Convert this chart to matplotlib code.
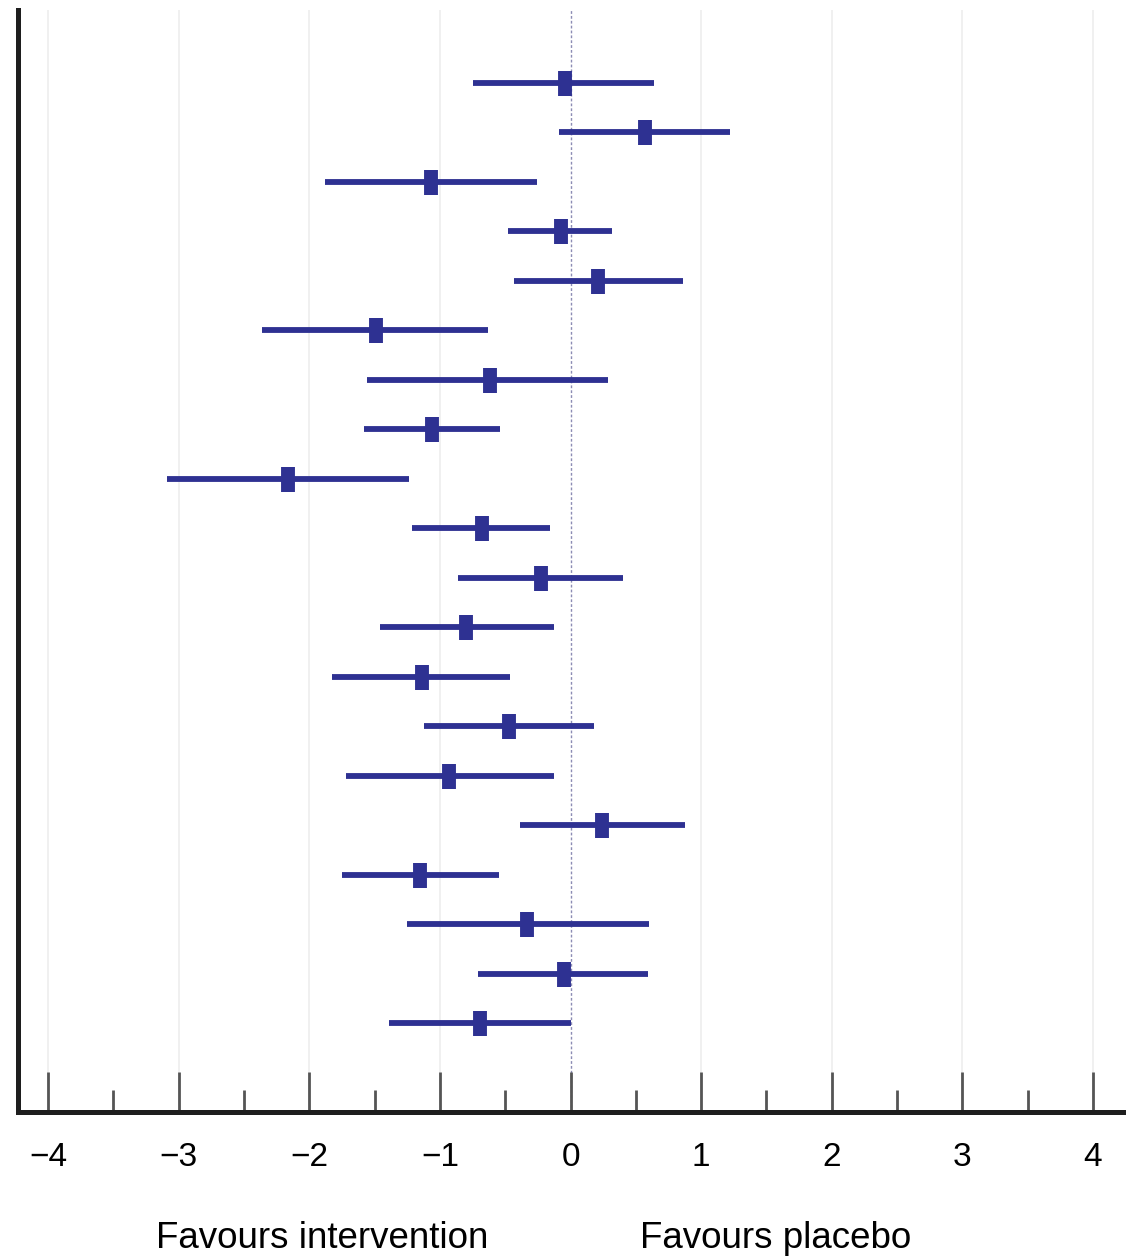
import matplotlib.pyplot as plt
from matplotlib.ticker import MultipleLocator

# effect estimates with confidence limits, one row per study (top to bottom)
estimate = [-0.04, 0.57, -1.07, -0.07, 0.21, -1.49, -0.62, -1.06, -2.16, -0.68,
            -0.23, -0.80, -1.14, -0.47, -0.93, 0.24, -1.15, -0.33, -0.05, -0.69]
lower = [-0.75, -0.09, -1.88, -0.48, -0.43, -2.36, -1.56, -1.58, -3.09, -1.21,
         -0.86, -1.46, -1.83, -1.12, -1.72, -0.39, -1.75, -1.25, -0.71, -1.39]
upper = [0.64, 1.22, -0.26, 0.32, 0.86, -0.63, 0.29, -0.54, -1.24, -0.16,
         0.40, -0.13, -0.46, 0.18, -0.13, 0.88, -0.55, 0.60, 0.59, 0.00]

tick_values = [-4, -3, -2, -1, 0, 1, 2, 3, 4]
tick_labels = ["\u22124", "\u22123", "\u22122", "\u22121", "0", "1", "2", "3", "4"]

navy = "#2e3192"

fig = plt.figure(figsize=(11.27, 12.57), dpi=100)
ax = fig.add_axes([0.016, 0.1154, 0.9805, 0.8766])

rows = list(range(len(estimate)))

for r in rows:
    ax.plot([lower[r], upper[r]], [r, r], color=navy, lw=4.2,
            solid_capstyle="butt", zorder=3)
ax.plot(estimate, rows, linestyle="none", marker="|", ms=18, mew=10,
        color=navy, zorder=4)

# vertical grid and no-effect line
for v in tick_values:
    if v != 0:
        ax.axvline(v, color="#ededed", lw=1.2, zorder=0)
ax.axvline(0, color="#8c8cb4", lw=1.0, ls=(0, (2, 1.5)), zorder=1)

ax.set_xlim(-4.23, 4.23)
ax.set_ylim(20.79, -1.47)

ax.set_xticks(tick_values)
ax.set_xticklabels(tick_labels, fontsize=24, family="Liberation Sans")
ax.xaxis.set_minor_locator(MultipleLocator(0.5))
ax.tick_params(axis="x", which="major", direction="in", length=29, width=2,
               color="#555555", pad=22)
ax.tick_params(axis="x", which="minor", direction="in", length=16, width=2,
               color="#555555")
ax.set_yticks([])

for s in ["top", "right"]:
    ax.spines[s].set_visible(False)
for s in ["left", "bottom"]:
    ax.spines[s].set_linewidth(3.6)
    ax.spines[s].set_color("#1e1e1e")

fig.text(322 / 1127, 1 - 1238 / 1257, "Favours intervention", ha="center",
         va="center", fontsize=26.5, family="Liberation Sans")
fig.text(776 / 1127, 1 - 1238 / 1257, "Favours placebo", ha="center",
         va="center", fontsize=26.5, family="Liberation Sans")

fig.savefig("out.png", dpi=100)
